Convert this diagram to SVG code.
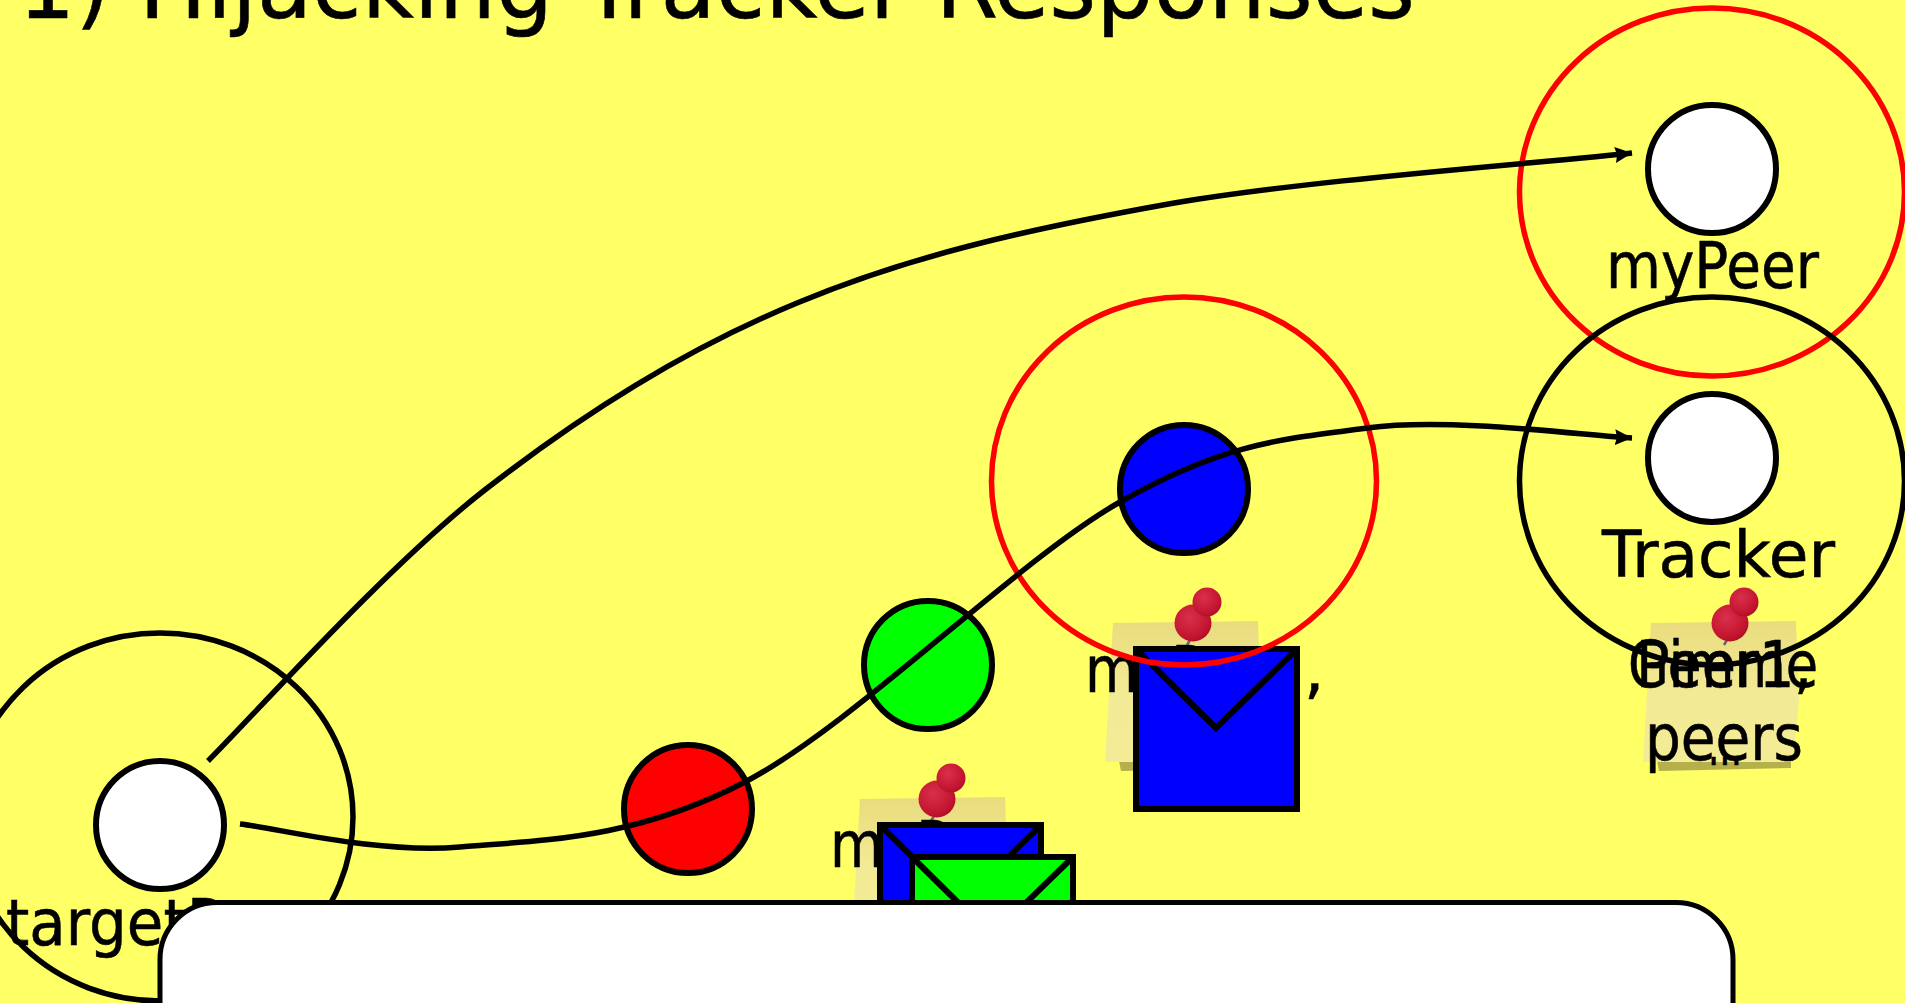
<svg xmlns="http://www.w3.org/2000/svg" width="1905" height="1003" viewBox="0 0 1905 1003">
<style>
text{font-family:"DejaVu Sans",sans-serif;font-size:64px;fill:#000;stroke:#000;stroke-width:.6}
.ring{fill:none;stroke-width:5.5}
.node{stroke:#000;stroke-width:6}
.env{stroke:#000;stroke-width:6}
.conn{fill:none;stroke:#000;stroke-width:5.5}
.shadow{fill:#B5B04A}
</style>
<defs>
<linearGradient id="pg" x1="0" y1="0" x2="0" y2="1"><stop offset="0" stop-color="#E9DC7E"/><stop offset="0.5" stop-color="#F3EA95"/><stop offset="1" stop-color="#F3EB97"/></linearGradient>
<radialGradient id="pinG" cx="0.4" cy="0.35" r="0.75"><stop offset="0" stop-color="#D8304E"/><stop offset="0.7" stop-color="#C4152F"/><stop offset="1" stop-color="#A00D25"/></radialGradient>
<marker id="arr" viewBox="0 0 17 16" refX="17" refY="8" markerWidth="17" markerHeight="16" markerUnits="userSpaceOnUse" orient="auto"><path d="M0,0L17,8L0,16L2,8Z" fill="#000"/></marker>
<g id="note">
<path class="shadow" d="M14,140L148,140L148,147L16,150Z"/>
<path d="M8,2L153,0L156,80L150,141L0,141Z" fill="url(#pg)"/>
</g>
<g id="pushpin">
<path d="M-1,-4L-7,6" stroke="#667" stroke-width="2.5" fill="none"/>
<path d="M-1,-16L13,-37" stroke="#C4152F" stroke-width="15" fill="none"/>
<circle cx="-1" cy="-16" r="18.5" fill="url(#pinG)"/>
<circle cx="13" cy="-37" r="14.5" fill="url(#pinG)"/>
</g>
</defs>
<rect id="background" width="1905" height="1003" fill="#FFFF66"/>
<text id="title" x="18" y="18" style="font-size:92px" textLength="1397" lengthAdjust="spacingAndGlyphs">1) Hijacking Tracker Responses</text>

<g id="note-blue">
<use href="#note" x="1105" y="621"/>
<use href="#pushpin" x="1194" y="639"/>
<text x="1085" y="692"><tspan textLength="208" lengthAdjust="spacingAndGlyphs">myPeer</tspan><tspan x="1304">,</tspan></text>
<rect class="env" x="1136" y="649" width="161" height="160" fill="#00f"/>
<path class="env" fill="none" d="M1136,649L1216,728L1297,649"/>
</g>
<g id="note-tracker">
<use href="#note" x="1643" y="621"/>
<use href="#pushpin" x="1731" y="639"/>
<text x="1628" y="687" textLength="190" lengthAdjust="spacingAndGlyphs">Gimme</text>
<text x="1636" y="687" textLength="176" lengthAdjust="spacingAndGlyphs">Peer1,</text>
<text x="1645" y="760" textLength="158" lengthAdjust="spacingAndGlyphs">peers</text>
<text x="1708" y="765" textLength="34" lengthAdjust="spacingAndGlyphs">...</text>
</g>
<g id="note-target">
<use href="#note" x="852" y="797"/>
<use href="#pushpin" x="938" y="815"/>
<text x="830" y="867"><tspan textLength="208" lengthAdjust="spacingAndGlyphs">myPeer</tspan><tspan x="1049">,</tspan></text>
<rect class="env" x="880" y="825" width="161" height="160" fill="#00f"/>
<path class="env" fill="none" d="M880,825L960,904L1041,825"/>
<rect class="env" x="912" y="857" width="161" height="160" fill="#0f0"/>
<path class="env" fill="none" d="M912,857L992,936L1073,857"/>
</g>

<g id="targetPeer">
<ellipse class="ring" cx="160" cy="817" rx="193" ry="184" stroke="#000"/>
<circle class="node" cx="160" cy="825" r="64" fill="#fff"/>
<text x="6" y="945" textLength="312" lengthAdjust="spacingAndGlyphs">targetPeer</text>
</g>
<g id="myPeer">
<ellipse class="ring" cx="1712" cy="192" rx="192.5" ry="184" stroke="#f00"/>
<circle class="node" cx="1712" cy="169" r="64" fill="#fff"/>
<text x="1606" y="288" textLength="213" lengthAdjust="spacingAndGlyphs">myPeer</text>
</g>
<g id="Tracker">
<ellipse class="ring" cx="1712" cy="481" rx="192.5" ry="184" stroke="#000"/>
<circle class="node" cx="1712" cy="458" r="64" fill="#fff"/>
<text x="1602" y="577" textLength="233" lengthAdjust="spacingAndGlyphs">Tracker</text>
</g>
<g id="redNode"><circle class="node" cx="688" cy="809" r="64" fill="#f00"/></g>
<g id="greenNode"><circle class="node" cx="928" cy="665" r="64" fill="#0f0"/></g>
<g id="blueNode">
<circle class="node" cx="1184" cy="489" r="64" fill="#00f"/>
<ellipse class="ring" cx="1184" cy="481" rx="192.5" ry="184" stroke="#f00"/>
</g>

<g id="connectors">
<path class="conn" marker-end="url(#arr)" d="M208,761C254,715 388,565 486,489C584,413 684,350 797,303C910,256 1024,230 1163,205C1302,180 1554,162 1632,153"/>
<path class="conn" marker-end="url(#arr)" d="M240,824C277,828 376,854 460,847C544,840 635,839.5 745,782C855,724.5 1016,561 1120,502C1224,443 1282,439 1367,428C1452,417 1588,436 1632,438"/>
</g>

<g id="panel"><rect x="160" y="902.5" width="1573" height="240" rx="57" ry="57" fill="#fff" stroke="#000" stroke-width="5"/></g>
</svg>
